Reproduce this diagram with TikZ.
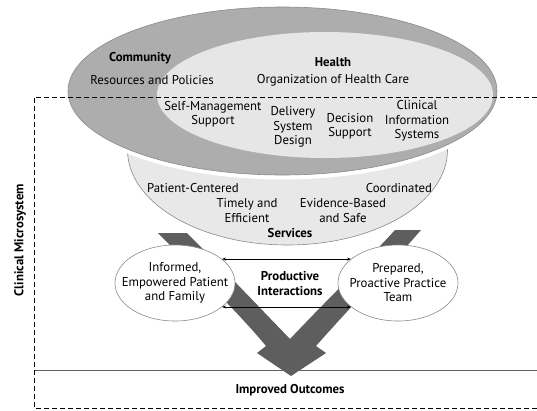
\documentclass[tikz,border=0pt]{standalone}
\usepackage{fontspec}
\setmainfont{PT Sans}
\usetikzlibrary{shapes.geometric,arrows.meta}
\definecolor{outergray}{HTML}{ADADAD}
\definecolor{innergray}{HTML}{E6E6E6}
\definecolor{servgray}{HTML}{E8E8E8}
\definecolor{bandgray}{HTML}{5E5E5E}
\definecolor{edgegray}{HTML}{8A8A8A}
\begin{document}
\begin{tikzpicture}[x=1pt,y=-1pt,
  lbl/.style={font=\fontsize{12.8}{14.5}\selectfont, align=center, inner sep=0pt},
  blbl/.style={lbl, font=\fontsize{12.8}{14.5}\selectfont\bfseries},
  oval/.style={ellipse, draw=edgegray, line width=0.6pt, inner sep=0pt},
  dbl/.style={{Stealth[length=4pt,width=3pt]}-{Stealth[length=4pt,width=3pt]}, line width=0.6pt},
  dashframe/.style={dash pattern=on 5pt off 3pt, line width=0.8pt}]
\useasboundingbox (0,0) rectangle (537,410);
% V arrow
\fill[bandgray] (158,233) -- (187,233)
  .. controls (222,268) and (262,310) .. (290,339)
  .. controls (322,305) and (362,266) .. (395,230)
  -- (421,230)
  .. controls (388,268) and (346,312) .. (316,346)
  -- (326,353) -- (291,376) -- (257,353) -- (266,346)
  .. controls (238,312) and (194,270) .. (158,233) -- cycle;
% services
\node[oval, fill=servgray, minimum width=320pt, minimum height=190pt] (serv) at (287.5,150) {};
% big ellipses
\fill[white] (282.5,91) ellipse [x radius=219, y radius=88.5];
\node[oval, fill=outergray, draw=edgegray, minimum width=429pt, minimum height=168pt] (comm) at (282.5,91) {};
\fill[innergray] (325,95) ellipse [x radius=168, y radius=63];
% top texts
\node[blbl] (commT) at (140,58) {Community};
\node[lbl] (res) at (152,80) {Resources and Policies};
\node[blbl] (health) at (333,62) {Health};
\node[lbl] (org) at (333,80) {Organization of Health Care};
\node[lbl] (sms) at (213,114) {Self-Management\\Support};
\node[lbl] (dsd) at (293,127) {Delivery\\System\\Design};
\node[lbl] (ds) at (350,126) {Decision\\Support};
\node[lbl] (cis) at (417,121) {Clinical\\Information\\Systems};
% services texts
\node[lbl] (pc) at (193,188) {Patient-Centered};
\node[lbl] (co) at (399,188) {Coordinated};
\node[lbl] (te) at (247,210.5) {Timely and\\Efficient};
\node[lbl] (eb) at (343,210.5) {Evidence-Based\\and Safe};
\node[blbl] (servT) at (290,233) {Services};
% lower ellipses
\node[oval, fill=white, minimum width=120pt, minimum height=76pt] (pat) at (175,283) {};
\node[lbl] at (pat.center) {Informed,\\Empowered Patient\\and Family};
\node[oval, fill=white, minimum width=120pt, minimum height=76pt] (team) at (398,283) {};
\node[lbl] at (team.center) {Prepared,\\Proactive Practice\\Team};
\node[blbl] (pi) at (290,283.5) {Productive\\Interactions};
\draw[dbl] (pat.27) -- (team.153);
\draw[dbl] (pat.-27) -- (team.-153);
% outcomes
\coordinate (lineL) at (34,370);
\coordinate (lineR) at (537,370);
\draw[edgegray!70!black, line width=0.7pt] (lineL) -- (lineR);
\node[blbl] (io) at (290,390) {Improved Outcomes};
% dashed frame
\draw[dashframe] (537,97) -- (34,97) -- (34,408) -- (537,408);
\node[blbl, rotate=90] (cm) at (20,240) {Clinical Microsystem};
\end{tikzpicture}
\end{document}
